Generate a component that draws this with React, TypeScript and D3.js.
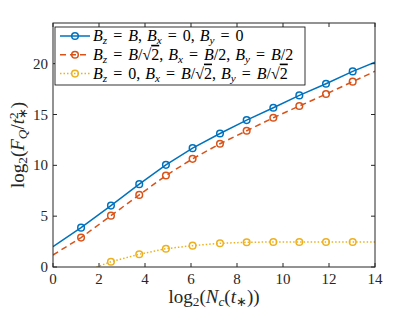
import React, { useEffect, useRef } from 'react';
import * as d3 from 'd3';

// log2(Nc(t*)) positions of the markers
const nc = [1.22, 2.52, 3.75, 4.91, 6.07, 7.26, 8.42, 9.58, 10.71, 11.87, 13.03];
// line runs from x=0 to x=14, markers only on nc
const xStart = 0;
const xEnd = 14;

const blue = [3.87, 6.04, 8.15, 10.05, 11.69, 13.13, 14.45, 15.66, 16.88, 18.03, 19.24];
const blueEnds = [2.0, 20.15];
const orange = [2.89, 5.05, 7.09, 9.0, 10.64, 12.12, 13.4, 14.68, 15.83, 17.01, 18.23];
const orangeEnds = [1.18, 19.25];
const yellow = [-0.57, 0.52, 1.25, 1.8, 2.1, 2.33, 2.43, 2.46, 2.46, 2.46, 2.46];
const yellowEnds = [-2.2, 2.46];

const xTicks = [0, 2, 4, 6, 8, 10, 12, 14];
const yTicks = [0, 5, 10, 15, 20];

type Seg = [string, string];

// pieces: n normal, i italic, s italic subscript, sn upright subscript, o overline, e equals, c comma
const legendLabels: Seg[][] = [
  [['B', 'i'], ['z', 's'], ['=', 'e'], ['B', 'i'], [',', 'c'], ['B', 'i'], ['x', 's'], ['=', 'e'], ['0', 'n'], [',', 'c'], ['B', 'i'], ['y', 's'], ['=', 'e'], ['0', 'n']],
  [['B', 'i'], ['z', 's'], ['=', 'e'], ['B', 'i'], ['/√', 'n'], ['2', 'o'], [',', 'c'], ['B', 'i'], ['x', 's'], ['=', 'e'], ['B', 'i'], ['/2', 'n'], [',', 'c'], ['B', 'i'], ['y', 's'], ['=', 'e'], ['B', 'i'], ['/2', 'n']],
  [['B', 'i'], ['z', 's'], ['=', 'e'], ['0', 'n'], [',', 'c'], ['B', 'i'], ['x', 's'], ['=', 'e'], ['B', 'i'], ['/√', 'n'], ['2', 'o'], [',', 'c'], ['B', 'i'], ['y', 's'], ['=', 'e'], ['B', 'i'], ['/√', 'n'], ['2', 'o']],
];
const xLabel: Seg[] = [['log', 'n'], ['2', 'sn'], ['(', 'n'], ['N', 'i'], ['c', 's'], ['(', 'n'], ['t', 'i'], ['∗', 'sn'], ['))', 'n']];

function writeMath(text: any, segs: Seg[]) {
  let pendingDx = 0;
  segs.forEach(([s, k]) => {
    const t = text.append('tspan').text(s);
    if (pendingDx) { t.attr('dx', pendingDx); pendingDx = 0; }
    if (k === 'i') t.attr('font-style', 'italic');
    if (k === 's') t.attr('font-style', 'italic').attr('font-size', '0.7em').attr('baseline-shift', '-25%');
    if (k === 'sn') t.attr('font-size', '0.7em').attr('baseline-shift', '-25%');
    if (k === 'o') t.attr('text-decoration', 'overline');
    if (k === 'e') { t.attr('dx', 6); pendingDx = 6; }
    if (k === 'c') pendingDx = 5;
  });
}

function App() {
  const ref = useRef<SVGSVGElement>(null);

  useEffect(() => {
    const svg = d3.select(ref.current);
    svg.selectAll('*').remove();

    const w = 415, h = 312;
    const m = { left: 53, right: 375, top: 23, bottom: 267 };
    const font = '"Liberation Serif", "Times New Roman", serif';
    const axisCol = '#262626';

    const x = d3.scaleLinear().domain([0, 14]).range([m.left, m.right]);
    const y = d3.scaleLinear().domain([0, 24]).range([m.bottom, m.top]);

    svg.attr('width', w).attr('height', h);

    svg.append('defs').append('clipPath').attr('id', 'plotclip')
      .append('rect')
      .attr('x', m.left).attr('y', m.top)
      .attr('width', m.right - m.left).attr('height', m.bottom - m.top);

    const series = [
      { vals: blue, ends: blueEnds, color: '#0072BD', dash: null },
      { vals: orange, ends: orangeEnds, color: '#D95319', dash: '6,4' },
      { vals: yellow, ends: yellowEnds, color: '#EDB120', dash: '1.5,2' },
    ];

    const line = d3.line<[number, number]>().x((d) => x(d[0])).y((d) => y(d[1]));
    const plot = svg.append('g').attr('clip-path', 'url(#plotclip)');

    series.forEach((s) => {
      const pts: [number, number][] = [[xStart, s.ends[0]]];
      nc.forEach((v, i) => pts.push([v, s.vals[i]]));
      pts.push([xEnd, s.ends[1]]);
      plot.append('path')
        .attr('d', line(pts))
        .attr('fill', 'none')
        .attr('stroke', s.color)
        .attr('stroke-width', 1.5)
        .attr('stroke-dasharray', s.dash);
      plot.selectAll(null)
        .data(nc.map((v, i) => [v, s.vals[i]]))
        .enter()
        .append('circle')
        .attr('cx', (d) => x(d[0]))
        .attr('cy', (d) => y(d[1]))
        .attr('r', 3.3)
        .attr('fill', 'none')
        .attr('stroke', s.color)
        .attr('stroke-width', 1.5);
    });

    // axes box + inward ticks
    const ax = svg.append('g').attr('stroke', axisCol).attr('stroke-width', 1);
    ax.append('rect')
      .attr('x', m.left).attr('y', m.top)
      .attr('width', m.right - m.left).attr('height', m.bottom - m.top)
      .attr('fill', 'none');
    const tl = 4;
    xTicks.forEach((t) => {
      ax.append('line').attr('x1', x(t)).attr('x2', x(t)).attr('y1', m.bottom).attr('y2', m.bottom - tl);
      ax.append('line').attr('x1', x(t)).attr('x2', x(t)).attr('y1', m.top).attr('y2', m.top + tl);
    });
    yTicks.forEach((t) => {
      ax.append('line').attr('y1', y(t)).attr('y2', y(t)).attr('x1', m.left).attr('x2', m.left + tl);
      ax.append('line').attr('y1', y(t)).attr('y2', y(t)).attr('x1', m.right).attr('x2', m.right - tl);
    });

    svg.selectAll('.xt').data(xTicks).enter().append('text')
      .attr('x', (d) => x(d)).attr('y', m.bottom + 17)
      .attr('text-anchor', 'middle')
      .attr('font-family', font).attr('font-size', 15).attr('fill', axisCol)
      .text((d) => d);
    svg.selectAll('.yt').data(yTicks).enter().append('text')
      .attr('x', m.left - 5).attr('y', (d) => y(d) + 5)
      .attr('text-anchor', 'end')
      .attr('font-family', font).attr('font-size', 15).attr('fill', axisCol)
      .text((d) => d);

    // x label
    const xl = svg.append('text')
      .attr('x', (m.left + m.right) / 2).attr('y', 303)
      .attr('text-anchor', 'middle')
      .attr('font-family', font).attr('font-size', 19).attr('fill', axisCol);
    writeMath(xl, xLabel);

    // y label
    const yl = svg.append('text')
      .attr('transform', `translate(24,${(m.top + m.bottom) / 2}) rotate(-90)`)
      .attr('text-anchor', 'middle')
      .attr('font-family', font).attr('font-size', 19).attr('fill', axisCol);
    yl.append('tspan').text('log');
    yl.append('tspan').text('2').attr('font-size', '0.7em').attr('baseline-shift', '-25%');
    yl.append('tspan').text('(');
    yl.append('tspan').text('F').attr('font-style', 'italic');
    yl.append('tspan').text('Q').attr('font-style', 'italic').attr('font-size', '0.7em').attr('baseline-shift', '-25%');
    yl.append('tspan').text('/');
    yl.append('tspan').text('t').attr('font-style', 'italic');
    yl.append('tspan').text('2').attr('font-size', '0.7em').attr('baseline-shift', '45%');
    yl.append('tspan').text('∗').attr('font-size', '0.7em').attr('dx', -7).attr('baseline-shift', '-25%');
    yl.append('tspan').text(')');

    // legend
    const lg = svg.append('g');
    lg.append('rect')
      .attr('x', 55).attr('y', 27).attr('width', 250).attr('height', 58)
      .attr('fill', 'white').attr('stroke', '#000').attr('stroke-width', 0.8);
    series.forEach((s, i) => {
      const ly = 36 + i * 18.8;
      lg.append('line')
        .attr('x1', 60).attr('x2', 90).attr('y1', ly).attr('y2', ly)
        .attr('stroke', s.color).attr('stroke-width', 1.5)
        .attr('stroke-dasharray', s.dash);
      lg.append('circle')
        .attr('cx', 75).attr('cy', ly).attr('r', 3.3)
        .attr('fill', 'none').attr('stroke', s.color).attr('stroke-width', 1.5);
      const t = lg.append('text')
        .attr('x', 93).attr('y', ly + 5)
        .attr('font-family', font).attr('font-size', 16).attr('fill', '#000');
      writeMath(t, legendLabels[i]);
    });
  }, []);

  return <svg ref={ref} style={{ position: 'absolute', left: 0, top: 0 }}></svg>;
}

export default App;
